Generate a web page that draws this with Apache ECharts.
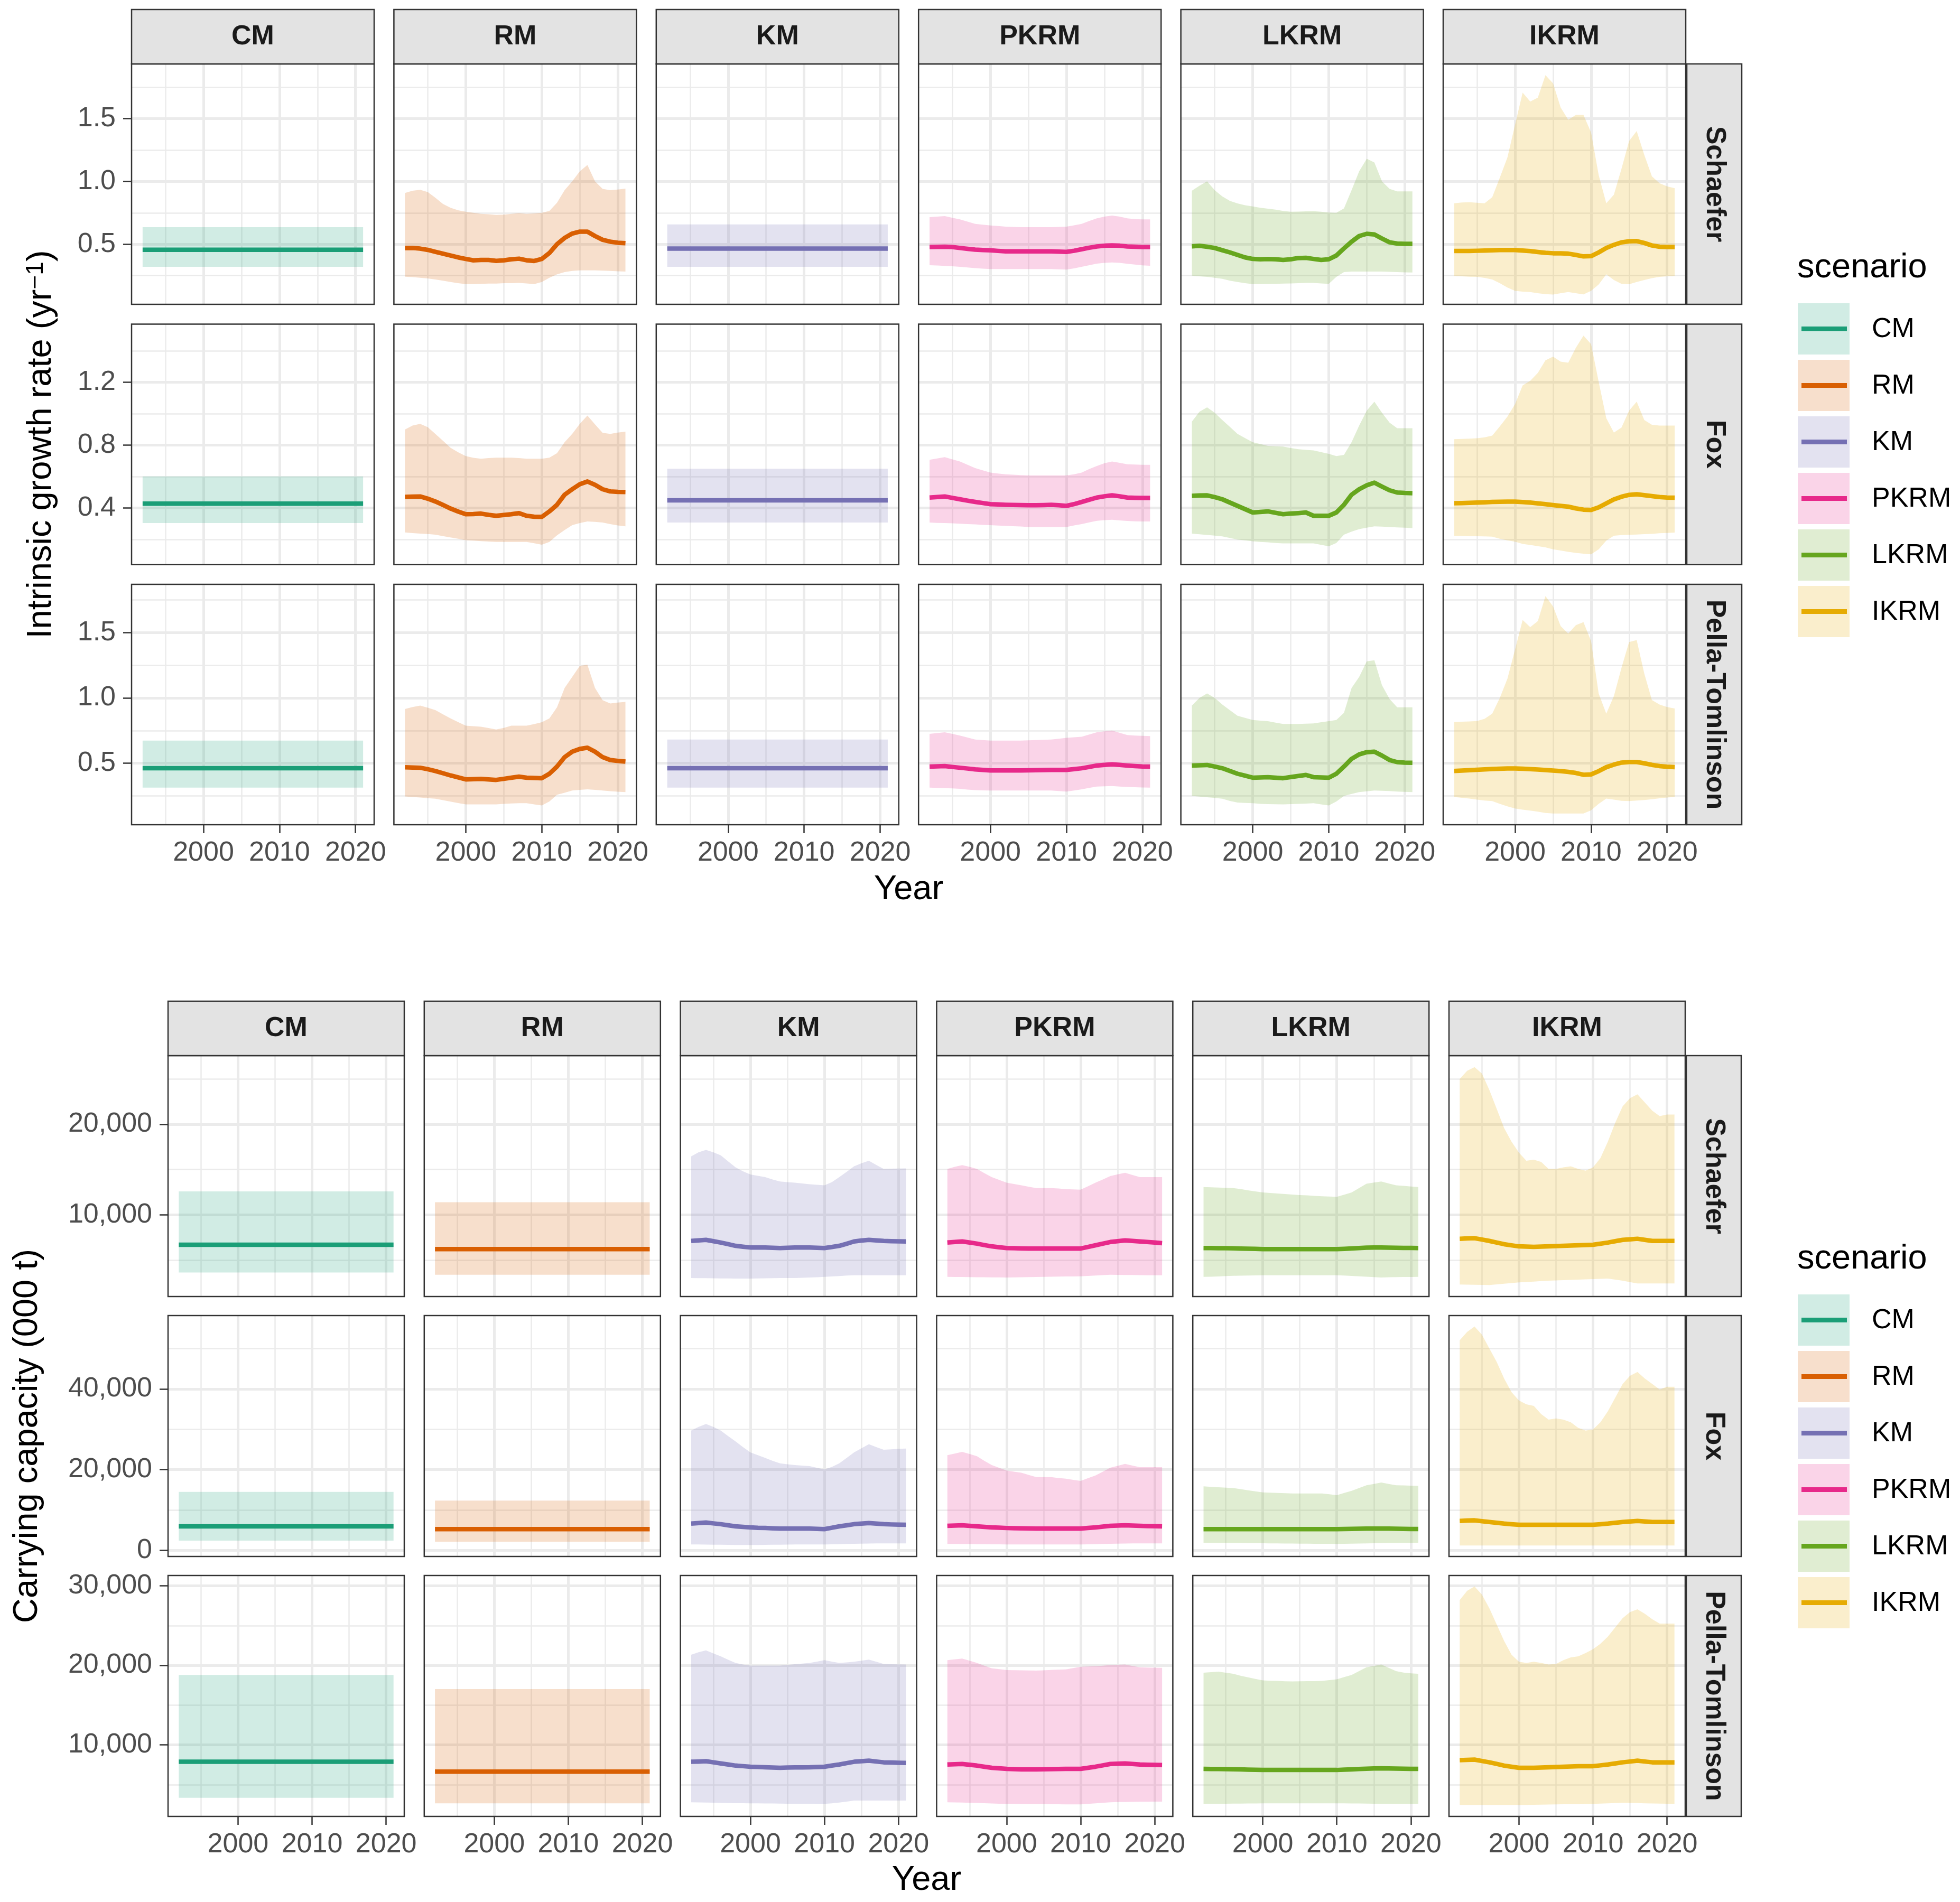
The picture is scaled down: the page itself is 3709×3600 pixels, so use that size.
<!DOCTYPE html>
<html><head><meta charset="utf-8">
<script src="https://cdn.jsdelivr.net/npm/echarts@6/dist/echarts.min.js"></script>
<style>html,body{margin:0;padding:0;background:#fff}#c{width:3709px;height:3600px}</style>
</head><body><div id="c"></div>
<script>
// ---------------- DATA ----------------
const years = [1992,1993,1994,1995,1996,1997,1998,1999,2000,2001,2002,2003,2004,2005,2006,2007,2008,2009,2010,2011,2012,2013,2014,2015,2016,2017,2018,2019,2020,2021];
const scenarios = ['CM','RM','KM','PKRM','LKRM','IKRM'];
const models = ['Schaefer','Fox','Pella-Tomlinson'];
const xTicks = [2000,2010,2020];
const xMinor = [1995,2005,2015];
const rTicks = [[0.5,1.0,1.5],[0.4,0.8,1.2],[0.5,1.0,1.5]];
const rMinor = [[0.25,0.75,1.25,1.75],[0.2,0.6,1.0,1.4],[0.25,0.75,1.25,1.75]];
const rLimits = [[0.022,1.934],[0.041,1.570],[0.030,1.869]];
const kTicks = [[10000,20000],[0,20000,40000],[10000,20000,30000]];
const kMinor = [[5000,15000,25000],[10000,30000,50000],[5000,15000,25000]];
const kLimits = [[964,27590],[-1492,58170],[997,31306]];

// constant scenarios: per model [mid, lo, hi]
const r_CM = [[0.456,0.320,0.636],[0.428,0.305,0.601],[0.462,0.314,0.674]];
const r_KM = [[0.465,0.320,0.658],[0.449,0.308,0.650],[0.462,0.314,0.682]];
const K_CM = [[6690,3615,12590],[5965,2440,14505],[7870,3335,18800]];
const K_RM = [[6205,3375,11385],[5285,2165,12340],[6630,2645,17010]];

// Intrinsic growth rate, Schaefer
const r_RM_S_mid = [0.470,0.470,0.465,0.455,0.440,0.425,0.410,0.395,0.383,0.372,0.375,0.375,0.368,0.372,0.380,0.385,0.372,0.367,0.383,0.430,0.500,0.550,0.585,0.600,0.600,0.565,0.535,0.520,0.512,0.508];
const r_RM_S_lo = [0.242,0.238,0.233,0.228,0.220,0.210,0.200,0.190,0.183,0.183,0.185,0.187,0.187,0.190,0.190,0.192,0.188,0.183,0.200,0.233,0.260,0.278,0.288,0.292,0.292,0.292,0.290,0.288,0.285,0.283];
const r_RM_S_hi = [0.908,0.925,0.933,0.915,0.870,0.820,0.790,0.770,0.758,0.750,0.742,0.738,0.733,0.735,0.742,0.747,0.742,0.745,0.750,0.765,0.830,0.930,1.000,1.080,1.130,1.000,0.940,0.930,0.935,0.942];
const r_PKRM_S_mid = [0.478,0.479,0.480,0.478,0.470,0.463,0.457,0.454,0.452,0.447,0.443,0.443,0.443,0.443,0.443,0.443,0.443,0.441,0.439,0.448,0.460,0.472,0.482,0.488,0.491,0.488,0.482,0.480,0.478,0.478];
const r_PKRM_S_lo = [0.333,0.331,0.328,0.325,0.320,0.315,0.310,0.306,0.303,0.303,0.303,0.303,0.303,0.303,0.303,0.303,0.303,0.300,0.298,0.308,0.320,0.333,0.346,0.352,0.355,0.352,0.345,0.338,0.332,0.329];
const r_PKRM_S_hi = [0.715,0.720,0.724,0.710,0.697,0.680,0.662,0.655,0.649,0.645,0.640,0.638,0.636,0.636,0.636,0.636,0.636,0.638,0.640,0.650,0.662,0.685,0.706,0.720,0.728,0.720,0.706,0.700,0.697,0.697];
const r_LKRM_S_mid = [0.483,0.487,0.480,0.470,0.452,0.435,0.415,0.395,0.383,0.380,0.382,0.380,0.375,0.380,0.390,0.392,0.383,0.375,0.380,0.410,0.467,0.520,0.565,0.583,0.578,0.545,0.515,0.505,0.503,0.503];
const r_LKRM_S_lo = [0.250,0.245,0.240,0.233,0.225,0.210,0.200,0.190,0.183,0.183,0.184,0.185,0.187,0.188,0.190,0.192,0.192,0.188,0.185,0.240,0.278,0.283,0.283,0.283,0.283,0.283,0.280,0.278,0.276,0.275];
const r_LKRM_S_hi = [0.925,0.965,1.000,0.930,0.880,0.845,0.825,0.810,0.800,0.790,0.783,0.775,0.765,0.758,0.760,0.762,0.763,0.758,0.752,0.750,0.785,0.930,1.080,1.180,1.150,1.000,0.940,0.920,0.920,0.920];
const r_IKRM_S_mid = [0.446,0.446,0.446,0.448,0.450,0.452,0.454,0.454,0.454,0.450,0.445,0.438,0.432,0.428,0.427,0.425,0.415,0.403,0.405,0.435,0.470,0.495,0.515,0.523,0.525,0.510,0.490,0.480,0.478,0.478];
const r_IKRM_S_lo = [0.248,0.245,0.242,0.240,0.232,0.220,0.190,0.155,0.129,0.123,0.120,0.110,0.103,0.100,0.110,0.120,0.110,0.101,0.129,0.180,0.260,0.215,0.185,0.182,0.200,0.215,0.230,0.240,0.245,0.248];
const r_IKRM_S_hi = [0.826,0.832,0.834,0.830,0.826,0.874,1.030,1.190,1.450,1.706,1.635,1.666,1.845,1.780,1.587,1.490,1.528,1.528,1.389,1.050,0.826,0.894,1.100,1.320,1.400,1.210,1.040,0.985,0.960,0.945];

// Intrinsic growth rate, Fox
const r_RM_F_mid = [0.471,0.473,0.474,0.460,0.442,0.420,0.397,0.378,0.361,0.362,0.365,0.357,0.351,0.356,0.361,0.368,0.351,0.345,0.344,0.379,0.421,0.485,0.520,0.552,0.569,0.548,0.520,0.506,0.503,0.502];
const r_RM_F_lo = [0.245,0.241,0.238,0.235,0.231,0.222,0.213,0.205,0.196,0.193,0.190,0.187,0.185,0.185,0.185,0.185,0.185,0.176,0.167,0.185,0.227,0.260,0.291,0.305,0.315,0.312,0.308,0.298,0.290,0.284];
const r_RM_F_hi = [0.900,0.925,0.936,0.915,0.872,0.828,0.784,0.755,0.731,0.720,0.714,0.718,0.721,0.721,0.721,0.718,0.714,0.714,0.714,0.721,0.749,0.819,0.872,0.936,0.989,0.932,0.879,0.872,0.880,0.886];
const r_PKRM_F_mid = [0.467,0.470,0.474,0.465,0.456,0.447,0.439,0.432,0.425,0.423,0.421,0.420,0.419,0.418,0.418,0.419,0.421,0.418,0.414,0.425,0.439,0.453,0.467,0.475,0.481,0.475,0.467,0.465,0.464,0.464];
const r_PKRM_F_lo = [0.308,0.306,0.305,0.303,0.301,0.298,0.296,0.293,0.291,0.289,0.287,0.285,0.283,0.280,0.280,0.280,0.280,0.280,0.280,0.290,0.298,0.309,0.319,0.323,0.326,0.322,0.318,0.316,0.315,0.315];
const r_PKRM_F_hi = [0.707,0.716,0.724,0.710,0.696,0.675,0.654,0.640,0.626,0.620,0.615,0.612,0.610,0.608,0.608,0.608,0.608,0.608,0.608,0.615,0.626,0.648,0.668,0.685,0.696,0.688,0.679,0.677,0.675,0.675];
const r_LKRM_F_mid = [0.478,0.480,0.481,0.470,0.456,0.435,0.414,0.393,0.372,0.375,0.379,0.370,0.361,0.365,0.368,0.372,0.351,0.351,0.351,0.372,0.421,0.485,0.520,0.545,0.562,0.537,0.513,0.499,0.496,0.495];
const r_LKRM_F_lo = [0.238,0.233,0.229,0.225,0.220,0.210,0.200,0.195,0.189,0.185,0.182,0.178,0.175,0.175,0.175,0.175,0.175,0.166,0.157,0.178,0.231,0.250,0.266,0.275,0.284,0.282,0.280,0.277,0.275,0.273];
const r_LKRM_F_hi = [0.950,1.013,1.041,1.006,0.960,0.916,0.872,0.845,0.819,0.807,0.795,0.793,0.791,0.782,0.774,0.770,0.767,0.756,0.745,0.731,0.738,0.819,0.925,1.020,1.077,1.006,0.943,0.908,0.908,0.908];
const r_IKRM_F_mid = [0.431,0.432,0.433,0.435,0.437,0.439,0.440,0.441,0.441,0.438,0.435,0.430,0.425,0.419,0.414,0.409,0.398,0.390,0.388,0.405,0.430,0.455,0.472,0.484,0.488,0.482,0.476,0.470,0.467,0.466];
const r_IKRM_F_lo = [0.224,0.223,0.222,0.221,0.220,0.218,0.205,0.195,0.186,0.172,0.165,0.158,0.150,0.138,0.130,0.122,0.115,0.110,0.106,0.138,0.193,0.224,0.228,0.230,0.232,0.234,0.236,0.240,0.242,0.244];
const r_IKRM_F_hi = [0.838,0.840,0.842,0.844,0.850,0.861,0.920,0.982,1.061,1.180,1.210,1.260,1.340,1.363,1.331,1.325,1.420,1.497,1.443,1.204,0.972,0.880,0.912,1.020,1.077,0.960,0.930,0.925,0.925,0.925];

// Intrinsic growth rate, Pella-Tomlinson
const r_RM_P_mid = [0.470,0.468,0.466,0.455,0.441,0.424,0.407,0.392,0.377,0.379,0.381,0.377,0.373,0.381,0.390,0.398,0.390,0.388,0.386,0.420,0.475,0.547,0.589,0.610,0.619,0.589,0.547,0.525,0.518,0.513];
const r_RM_P_lo = [0.246,0.242,0.238,0.233,0.229,0.218,0.207,0.196,0.186,0.186,0.186,0.186,0.186,0.190,0.193,0.195,0.195,0.186,0.178,0.208,0.259,0.275,0.292,0.297,0.301,0.297,0.292,0.287,0.283,0.280];
const r_RM_P_hi = [0.915,0.930,0.941,0.925,0.907,0.875,0.843,0.815,0.788,0.784,0.780,0.770,0.759,0.771,0.788,0.788,0.788,0.800,0.814,0.843,0.928,1.076,1.161,1.246,1.254,1.076,0.983,0.958,0.965,0.970];
const r_PKRM_P_mid = [0.475,0.477,0.479,0.472,0.466,0.460,0.453,0.449,0.445,0.445,0.445,0.445,0.445,0.446,0.447,0.448,0.449,0.449,0.449,0.455,0.462,0.472,0.483,0.488,0.492,0.488,0.483,0.479,0.476,0.475];
const r_PKRM_P_lo = [0.314,0.312,0.310,0.308,0.305,0.299,0.295,0.293,0.292,0.292,0.292,0.292,0.292,0.292,0.292,0.292,0.292,0.288,0.284,0.292,0.301,0.312,0.322,0.324,0.326,0.322,0.319,0.317,0.315,0.314];
const r_PKRM_P_hi = [0.725,0.731,0.737,0.725,0.712,0.697,0.682,0.678,0.674,0.674,0.674,0.674,0.674,0.676,0.678,0.680,0.682,0.688,0.695,0.699,0.703,0.720,0.737,0.744,0.750,0.733,0.716,0.712,0.710,0.708];
const r_LKRM_P_mid = [0.483,0.485,0.487,0.475,0.462,0.441,0.420,0.405,0.390,0.392,0.394,0.390,0.386,0.395,0.403,0.411,0.394,0.392,0.390,0.420,0.475,0.534,0.568,0.585,0.589,0.559,0.525,0.509,0.505,0.504];
const r_LKRM_P_lo = [0.250,0.245,0.240,0.235,0.229,0.212,0.200,0.197,0.195,0.190,0.188,0.187,0.186,0.188,0.190,0.192,0.195,0.186,0.178,0.208,0.250,0.265,0.280,0.286,0.292,0.290,0.288,0.284,0.282,0.280];
const r_LKRM_P_hi = [0.941,1.000,1.034,1.000,0.949,0.906,0.864,0.847,0.831,0.826,0.822,0.811,0.801,0.801,0.801,0.803,0.805,0.814,0.822,0.831,0.886,1.076,1.161,1.280,1.288,1.097,0.992,0.928,0.928,0.928];
const r_IKRM_P_mid = [0.441,0.444,0.447,0.450,0.453,0.456,0.458,0.460,0.460,0.458,0.455,0.452,0.448,0.444,0.440,0.434,0.426,0.412,0.415,0.440,0.470,0.490,0.505,0.510,0.510,0.500,0.488,0.479,0.474,0.471];
const r_IKRM_P_lo = [0.242,0.236,0.230,0.222,0.215,0.211,0.190,0.170,0.154,0.145,0.138,0.130,0.120,0.116,0.116,0.116,0.116,0.116,0.140,0.190,0.230,0.222,0.213,0.211,0.215,0.219,0.225,0.232,0.238,0.242];
const r_IKRM_P_hi = [0.815,0.818,0.820,0.823,0.840,0.880,1.000,1.148,1.370,1.596,1.542,1.588,1.779,1.700,1.550,1.492,1.557,1.580,1.435,1.033,0.880,1.014,1.230,1.427,1.443,1.186,0.984,0.950,0.930,0.919];

// Carrying capacity (000 t), Schaefer
const K_KM_S_mid = [7109,7170,7229,7080,6928,6750,6567,6470,6386,6386,6386,6355,6325,6355,6386,6386,6386,6355,6325,6440,6567,6800,7048,7150,7229,7170,7109,7080,7060,7048];
const K_KM_S_lo = [3012,3000,2990,2980,2970,2960,2955,2952,2952,2965,2980,2995,3010,3012,3012,3040,3070,3100,3133,3180,3230,3280,3313,3313,3313,3313,3313,3313,3313,3313];
const K_KM_S_hi = [16446,16900,17169,16900,16566,15900,15241,14800,14458,14300,14157,13900,13675,13600,13554,13460,13374,13310,13253,13600,14157,14750,15362,15700,15964,15500,15060,15090,15110,15121];
const K_PKRM_S_mid = [6928,6990,7048,6930,6808,6650,6506,6410,6326,6300,6280,6270,6265,6265,6265,6265,6265,6265,6265,6450,6627,6810,6988,7080,7169,7110,7048,6990,6930,6868];
const K_PKRM_S_lo = [3133,3125,3118,3110,3100,3092,3085,3078,3073,3085,3100,3110,3120,3135,3150,3165,3180,3186,3193,3240,3290,3330,3374,3360,3350,3340,3330,3320,3316,3313];
const K_PKRM_S_hi = [15060,15300,15482,15300,15060,14600,14157,13850,13554,13400,13253,13100,12952,12952,12952,12900,12831,12800,12771,13150,13554,13900,14277,14460,14639,14400,14157,14157,14157,14157];
const K_LKRM_S_mid = [6325,6320,6310,6300,6290,6270,6250,6230,6205,6205,6205,6205,6205,6205,6205,6205,6205,6205,6205,6240,6280,6320,6360,6380,6386,6370,6350,6340,6330,6325];
const K_LKRM_S_lo = [3133,3160,3190,3220,3250,3270,3290,3305,3313,3313,3313,3313,3313,3313,3313,3313,3313,3313,3313,3280,3240,3200,3160,3110,3073,3090,3110,3120,3130,3133];
const K_LKRM_S_hi = [13072,13040,13010,12980,12952,12850,12700,12580,12470,12410,12350,12290,12229,12180,12140,12090,12048,12020,11988,12220,12470,12950,13434,13560,13675,13460,13253,13190,13130,13072];
const K_IKRM_S_mid = [7350,7380,7410,7260,7109,6930,6747,6620,6506,6476,6446,6476,6506,6536,6567,6597,6627,6657,6687,6800,6928,7080,7229,7290,7350,7230,7109,7109,7109,7109];
const K_IKRM_S_lo = [2289,2275,2260,2245,2229,2300,2380,2455,2530,2575,2620,2665,2711,2741,2771,2801,2831,2861,2892,2922,2952,2830,2711,2560,2410,2410,2410,2410,2410,2410];
const K_IKRM_S_hi = [25000,25904,26325,25603,23795,21687,19578,18072,16868,15964,16084,15843,15060,15060,15241,15362,15060,14880,15241,16265,18072,20181,21988,22892,23313,22410,21506,20904,21084,21084];

// Carrying capacity (000 t), Fox
const K_KM_F_mid = [6642,6780,6914,6700,6507,6230,5964,5830,5693,5600,5560,5490,5422,5422,5422,5422,5422,5354,5286,5620,5964,6230,6507,6640,6778,6640,6507,6440,6400,6371];
const K_KM_F_lo = [1490,1470,1450,1430,1410,1390,1370,1360,1354,1370,1390,1410,1430,1450,1470,1480,1490,1490,1490,1520,1560,1600,1640,1680,1710,1730,1750,1760,1762,1762];
const K_KM_F_hi = [29694,30600,31322,30600,29694,28300,26982,25600,24270,23600,22914,22200,21558,21350,21151,21000,20880,20470,20067,20700,21558,22900,24270,25300,26304,25600,24948,25050,25150,25219];
const K_PKRM_F_mid = [6100,6170,6236,6100,5964,5830,5693,5625,5557,5520,5490,5455,5422,5422,5422,5422,5422,5422,5422,5560,5693,5900,6100,6170,6236,6170,6100,6030,6000,5964];
const K_PKRM_F_lo = [1626,1610,1595,1580,1565,1545,1525,1505,1490,1490,1490,1490,1490,1490,1490,1490,1490,1490,1490,1520,1560,1600,1640,1680,1710,1730,1745,1755,1760,1762];
const K_PKRM_F_hi = [23592,24000,24406,23900,23321,22200,21151,20450,19796,19500,19253,18700,18168,18168,18168,17950,17762,17490,17219,17900,18575,19500,20474,20950,21422,21000,20609,20609,20609,20609];
const K_LKRM_F_mid = [5286,5286,5286,5286,5286,5286,5286,5286,5286,5286,5286,5286,5286,5286,5286,5286,5286,5286,5286,5300,5330,5370,5400,5420,5422,5400,5380,5350,5320,5300];
const K_LKRM_F_lo = [1898,1890,1880,1870,1860,1840,1820,1800,1780,1760,1740,1720,1700,1690,1680,1660,1650,1640,1626,1650,1680,1710,1740,1770,1800,1830,1860,1880,1890,1898];
const K_LKRM_F_hi = [15863,15760,15660,15560,15456,15200,14900,14640,14372,14300,14240,14170,14100,14100,14100,14100,14100,13900,13693,14240,14778,15450,16134,16470,16812,16470,16134,16090,16040,15998];
const K_IKRM_F_mid = [7320,7390,7456,7250,7049,6850,6642,6500,6371,6371,6371,6371,6371,6371,6371,6371,6371,6371,6371,6500,6642,6850,7049,7180,7320,7180,7049,7049,7049,7049];
const K_IKRM_F_lo = [1220,1220,1220,1220,1220,1220,1220,1220,1220,1220,1220,1220,1220,1220,1220,1220,1220,1220,1220,1220,1220,1220,1220,1220,1220,1220,1220,1220,1220,1220];
const K_IKRM_F_hi = [52068,54102,55458,53424,50034,46644,42576,39186,37152,36203,35796,33762,32406,32677,32406,31728,30372,29694,29965,31728,34440,37830,41220,43254,44203,42576,41220,39864,40542,40542];

// Carrying capacity (000 t), Pella-Tomlinson
const K_KM_P_mid = [7869,7900,7938,7800,7663,7525,7388,7320,7250,7220,7180,7150,7113,7140,7160,7170,7182,7216,7250,7390,7525,7700,7869,7940,8006,7900,7800,7770,7750,7732];
const K_KM_P_lo = [2783,2760,2740,2720,2700,2680,2665,2655,2645,2640,2630,2620,2610,2600,2595,2590,2585,2580,2577,2650,2750,2850,2989,2989,2989,2989,2989,2989,2989,2989];
const K_KM_P_hi = [21340,21650,21890,21500,21134,20700,20309,20100,19966,19966,19966,19966,19966,20050,20140,20230,20309,20480,20653,20480,20309,20380,20447,20580,20722,20450,20172,20140,20120,20103];
const K_PKRM_P_mid = [7525,7560,7594,7490,7388,7250,7113,7040,6975,6940,6920,6910,6907,6930,6950,6965,6975,6975,6975,7110,7250,7420,7594,7630,7663,7600,7525,7490,7470,7457];
const K_PKRM_P_lo = [2783,2760,2740,2715,2690,2660,2630,2600,2577,2570,2560,2550,2545,2540,2530,2520,2515,2510,2508,2570,2640,2710,2783,2800,2815,2830,2840,2845,2850,2852];
const K_PKRM_P_hi = [20653,20760,20859,20580,20309,19960,19622,19520,19416,19400,19380,19360,19347,19380,19420,19450,19484,19650,19828,19860,19897,19960,20034,20070,20103,19930,19759,19730,19710,19691];
const K_LKRM_P_mid = [6975,6965,6955,6940,6925,6905,6885,6860,6838,6838,6838,6838,6838,6838,6838,6838,6838,6838,6838,6880,6920,6960,7000,7030,7044,7030,7010,6995,6985,6975];
const K_LKRM_P_lo = [2577,2585,2592,2600,2607,2614,2620,2630,2640,2645,2645,2645,2645,2645,2645,2645,2645,2645,2645,2640,2630,2620,2610,2600,2590,2585,2580,2578,2577,2577];
const K_LKRM_P_hi = [19072,19140,19210,19070,18935,18700,18500,18300,18110,18070,18040,18000,17972,17990,18010,18020,18041,18150,18247,18520,18797,19280,19759,19930,20103,19690,19278,19100,19000,18935];
const K_IKRM_P_mid = [8075,8110,8144,7970,7800,7600,7388,7250,7113,7113,7113,7150,7182,7216,7250,7285,7319,7319,7319,7420,7525,7660,7800,7900,8006,7900,7800,7800,7800,7800];
const K_IKRM_P_lo = [2439,2439,2439,2439,2439,2439,2439,2439,2439,2450,2460,2475,2490,2505,2520,2535,2550,2565,2577,2610,2645,2680,2714,2690,2670,2650,2630,2610,2590,2577];
const K_IKRM_P_hi = [28213,29381,29931,28900,27182,25120,23058,21340,20447,20309,20447,20309,20103,20172,20653,20997,21134,21546,22027,22715,23608,24776,25945,26700,27045,26495,25808,25258,25258,25258];

// ---------------- STYLE ----------------
const lineColors = ['#1B9E77','#D95F02','#7570B3','#E7298A','#66A61E','#E6AB02'];
const bandColors = ['rgba(27,158,119,0.2)','rgba(217,95,2,0.2)','rgba(117,112,179,0.2)','rgba(231,41,138,0.2)','rgba(102,166,30,0.2)','rgba(230,171,2,0.2)'];
const FONT = "'Liberation Sans', Arial, Helvetica, sans-serif";

// tables built from the named arrays: [row][col] -> [mid, lo, hi] (arrays) or constant triple
const rTable = [0,1,2].map(r => [
  r_CM[r],
  [[r_RM_S_mid,r_RM_S_lo,r_RM_S_hi],[r_RM_F_mid,r_RM_F_lo,r_RM_F_hi],[r_RM_P_mid,r_RM_P_lo,r_RM_P_hi]][r],
  r_KM[r],
  [[r_PKRM_S_mid,r_PKRM_S_lo,r_PKRM_S_hi],[r_PKRM_F_mid,r_PKRM_F_lo,r_PKRM_F_hi],[r_PKRM_P_mid,r_PKRM_P_lo,r_PKRM_P_hi]][r],
  [[r_LKRM_S_mid,r_LKRM_S_lo,r_LKRM_S_hi],[r_LKRM_F_mid,r_LKRM_F_lo,r_LKRM_F_hi],[r_LKRM_P_mid,r_LKRM_P_lo,r_LKRM_P_hi]][r],
  [[r_IKRM_S_mid,r_IKRM_S_lo,r_IKRM_S_hi],[r_IKRM_F_mid,r_IKRM_F_lo,r_IKRM_F_hi],[r_IKRM_P_mid,r_IKRM_P_lo,r_IKRM_P_hi]][r]
]);
const kTable = [0,1,2].map(r => [
  K_CM[r],
  K_RM[r],
  [[K_KM_S_mid,K_KM_S_lo,K_KM_S_hi],[K_KM_F_mid,K_KM_F_lo,K_KM_F_hi],[K_KM_P_mid,K_KM_P_lo,K_KM_P_hi]][r],
  [[K_PKRM_S_mid,K_PKRM_S_lo,K_PKRM_S_hi],[K_PKRM_F_mid,K_PKRM_F_lo,K_PKRM_F_hi],[K_PKRM_P_mid,K_PKRM_P_lo,K_PKRM_P_hi]][r],
  [[K_LKRM_S_mid,K_LKRM_S_lo,K_LKRM_S_hi],[K_LKRM_F_mid,K_LKRM_F_lo,K_LKRM_F_hi],[K_LKRM_P_mid,K_LKRM_P_lo,K_LKRM_P_hi]][r],
  [[K_IKRM_S_mid,K_IKRM_S_lo,K_IKRM_S_hi],[K_IKRM_F_mid,K_IKRM_F_lo,K_IKRM_F_hi],[K_IKRM_P_mid,K_IKRM_P_lo,K_IKRM_P_hi]][r]
]);

function toSeriesData(entry) {
  if (Array.isArray(entry[0])) {
    return { x: years, mid: entry[0], lo: entry[1], hi: entry[2] };
  }
  const ends = [years[0], years[years.length - 1]];
  return { x: ends, mid: ends.map(() => entry[0]), lo: ends.map(() => entry[1]), hi: ends.map(() => entry[2]) };
}

const fmtComma = v => String(v).replace(/\B(?=(\d{3})+(?!\d))/g, ',');

const facets = [
  { table: rTable, ticks: rTicks, minor: rMinor, limits: rLimits, fmt: v => Number(v).toFixed(1),
    left0: 249, dx: 496.4, w: 459, top0: 121, dy: 492.5, h: 455, yTitleX: 78, xTitleY: 1684, legTop: 507,
    yTitle: 'Intrinsic growth rate (yr{s|\u22121})' },
  { table: kTable, ticks: kTicks, minor: kMinor, limits: kLimits, fmt: fmtComma,
    left0: 318, dx: 484.8, w: 447, top0: 1998, dy: 492, h: 456, yTitleX: 52, xTitleY: 3559, legTop: 2383,
    yTitle: 'Carrying capacity (000 t)' }
];

const grids = [], xAxes = [], yAxes = [], series = [], graphics = [];
const GRID_COL = '#EBEBEB';
let gi = 0;

function bandRenderer(rows, fill) {
  // rows: [[x, lo, hi], ...]; draw one polygon through the axis scales
  return function (params, api) {
    if (params.dataIndex !== 0) return null;
    const pts = [];
    for (let k = 0; k < rows.length; k++) pts.push(api.coord([rows[k][0], rows[k][2]]));
    for (let k = rows.length - 1; k >= 0; k--) pts.push(api.coord([rows[k][0], rows[k][1]]));
    return { type: 'polygon', shape: { points: pts }, style: { fill: fill, stroke: 'none' }, silent: true };
  };
}

facets.forEach(F => {
  for (let r = 0; r < 3; r++) {
    for (let c = 0; c < 6; c++) {
      const left = F.left0 + c * F.dx, top = F.top0 + r * F.dy;
      grids.push({ left: left, top: top, width: F.w, height: F.h, containLabel: false, show: false });
      const showX = (r === 2), showY = (c === 0);
      xAxes.push({
        type: 'value', gridIndex: gi, min: 1990.55, max: 2022.45,
        axisLine: { show: false }, splitLine: { show: false },
        axisTick: { show: showX, length: 16, lineStyle: { color: '#333333', width: 2.5 }, customValues: xTicks },
        axisLabel: { show: showX, customValues: xTicks, margin: 28, fontSize: 52, color: '#4D4D4D', fontFamily: FONT, formatter: v => String(v) }
      });
      yAxes.push({
        type: 'value', gridIndex: gi, min: F.limits[r][0], max: F.limits[r][1],
        axisLine: { show: false }, splitLine: { show: false },
        axisTick: { show: showY, length: 16, lineStyle: { color: '#333333', width: 2.5 }, customValues: F.ticks[r] },
        axisLabel: { show: showY, customValues: F.ticks[r], margin: 30, fontSize: 52, color: '#4D4D4D', fontFamily: FONT, formatter: F.fmt }
      });
      const ml = [];
      xMinor.forEach(v => ml.push({ xAxis: v, lineStyle: { color: GRID_COL, width: 2.5, type: 'solid' } }));
      F.minor[r].forEach(v => ml.push({ yAxis: v, lineStyle: { color: GRID_COL, width: 2.5, type: 'solid' } }));
      xTicks.forEach(v => ml.push({ xAxis: v, lineStyle: { color: GRID_COL, width: 5, type: 'solid' } }));
      F.ticks[r].forEach(v => ml.push({ yAxis: v, lineStyle: { color: GRID_COL, width: 5, type: 'solid' } }));
      series.push({
        type: 'line', xAxisIndex: gi, yAxisIndex: gi, data: [], z: 0, zlevel: 0, silent: true,
        markLine: { z: 0, zlevel: 0, symbol: ['none', 'none'], silent: true, animation: false, label: { show: false }, emphasis: { disabled: true }, data: ml }
      });
      const d = toSeriesData(F.table[r][c]);
      const rows = d.x.map((x, k) => [x, d.lo[k], d.hi[k]]);
      series.push({
        type: 'custom', xAxisIndex: gi, yAxisIndex: gi, silent: true, z: 2, clip: true,
        encode: { x: 0, y: [1, 2] },
        renderItem: bandRenderer(rows, bandColors[c]),
        data: rows
      });
      series.push({
        type: 'line', xAxisIndex: gi, yAxisIndex: gi, symbol: 'none', silent: true, z: 3,
        lineStyle: { width: 8.5, color: lineColors[c], cap: 'butt', join: 'round' },
        data: d.x.map((x, k) => [x, d.mid[k]])
      });
      // panel border
      graphics.push({ type: 'rect', z: 50, silent: true, shape: { x: left, y: top, width: F.w, height: F.h },
        style: { fill: 'none', stroke: '#333333', lineWidth: 2.5 } });
      gi++;
    }
  }
  // column strips
  for (let c = 0; c < 6; c++) {
    const left = F.left0 + c * F.dx;
    const sy = F.top0 - 103;
    graphics.push({ type: 'rect', z: 50, silent: true, shape: { x: left, y: sy, width: F.w, height: 103 },
      style: { fill: '#E3E3E3', stroke: '#333333', lineWidth: 2.5 } });
    graphics.push({ type: 'text', z: 51, silent: true, x: left + F.w / 2, y: sy + 52,
      style: { text: scenarios[c], fontSize: 52, fontWeight: 'bold', fontFamily: FONT, fill: '#1A1A1A',
        align: 'center', verticalAlign: 'middle', textAlign: 'center', textVerticalAlign: 'middle' } });
  }
  // row strips
  const rx = F.left0 + 5 * F.dx + F.w + 2;
  for (let r = 0; r < 3; r++) {
    const top = F.top0 + r * F.dy;
    graphics.push({ type: 'rect', z: 50, silent: true, shape: { x: rx, y: top, width: 104, height: F.h },
      style: { fill: '#E3E3E3', stroke: '#333333', lineWidth: 2.5 } });
    graphics.push({ type: 'text', z: 51, silent: true, x: rx + 52, y: top + F.h / 2, rotation: -Math.PI / 2,
      style: { text: models[r], fontSize: 52, fontWeight: 'bold', fontFamily: FONT, fill: '#1A1A1A',
        align: 'center', verticalAlign: 'middle', textAlign: 'center', textVerticalAlign: 'middle' } });
  }
  // axis titles
  const panelsBottom = F.top0 + 2 * F.dy + F.h;
  const panelsRight = F.left0 + 5 * F.dx + F.w;
  graphics.push({ type: 'text', z: 51, silent: true, x: (F.left0 + panelsRight) / 2, y: F.xTitleY,
    style: { text: 'Year', fontSize: 65, fontFamily: FONT, fill: '#000000',
      align: 'center', verticalAlign: 'middle', textAlign: 'center', textVerticalAlign: 'middle' } });
  graphics.push({ type: 'text', z: 51, silent: true, x: F.yTitleX, y: (F.top0 + panelsBottom) / 2, rotation: Math.PI / 2,
    style: { text: F.yTitle, fontSize: 65, fontFamily: FONT, fill: '#000000',
      align: 'center', verticalAlign: 'middle', textAlign: 'center', textVerticalAlign: 'middle',
      rich: { s: { fontSize: 46, fontFamily: FONT, fill: '#000000', verticalAlign: 'top', lineHeight: 64 } } } });
  // legend
  graphics.push({ type: 'text', z: 51, silent: true, x: 3401, y: F.legTop,
    style: { text: 'scenario', fontSize: 65, fontFamily: FONT, fill: '#000000',
      align: 'left', verticalAlign: 'middle', textAlign: 'left', textVerticalAlign: 'middle' } });
  for (let i = 0; i < 6; i++) {
    const ky = F.legTop + 67 + i * 107;
    graphics.push({ type: 'rect', z: 50, silent: true, shape: { x: 3402, y: ky, width: 98, height: 97 },
      style: { fill: bandColors[i], stroke: 'none' } });
    graphics.push({ type: 'line', z: 51, silent: true, shape: { x1: 3409, y1: ky + 48.5, x2: 3495, y2: ky + 48.5 },
      style: { stroke: lineColors[i], lineWidth: 9 } });
    graphics.push({ type: 'text', z: 51, silent: true, x: 3542, y: ky + 50,
      style: { text: scenarios[i], fontSize: 52, fontFamily: FONT, fill: '#000000',
        align: 'left', verticalAlign: 'middle', textAlign: 'left', textVerticalAlign: 'middle' } });
  }
});

const chart = echarts.init(document.getElementById('c'), null, { renderer: 'canvas', width: 3709, height: 3600 });
chart.setOption({
  backgroundColor: '#ffffff',
  animation: false,
  grid: grids,
  xAxis: xAxes,
  yAxis: yAxes,
  series: series,
  graphic: { elements: graphics }
});
</script>
</body></html>
